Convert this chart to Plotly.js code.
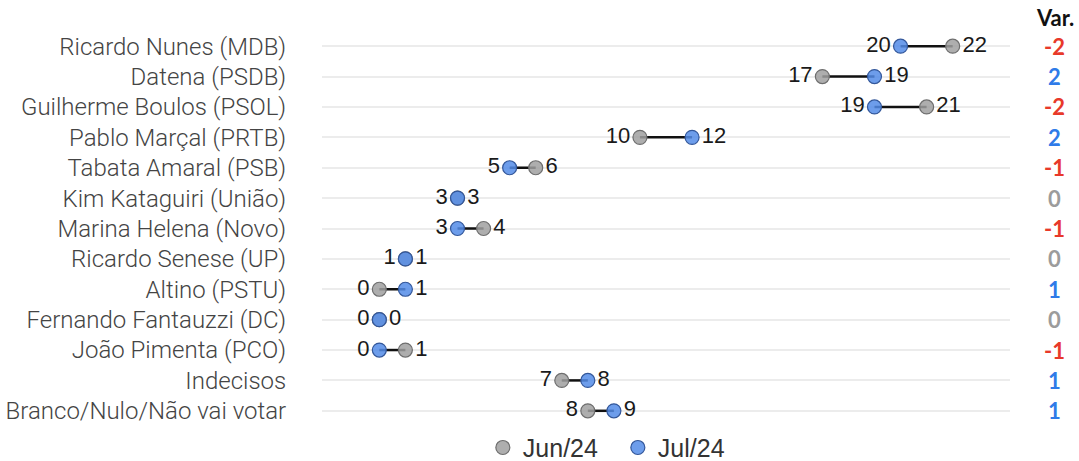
<!DOCTYPE html>
<html>
<head>
<meta charset="utf-8">
<script src="https://cdn.plot.ly/plotly-3.0.1.min.js"></script>
<style>
  html, body { margin: 0; padding: 0; background: #fff; }
  #chart { width: 1079px; height: 461px; }
</style>
</head>
<body>
<div id="chart"></div>
<script>
const names = [
    "Ricardo Nunes (MDB)", "Datena (PSDB)", "Guilherme Boulos (PSOL)", "Pablo Marçal (PRTB)",
    "Tabata Amaral (PSB)", "Kim Kataguiri (União)", "Marina Helena (Novo)", "Ricardo Senese (UP)",
    "Altino (PSTU)", "Fernando Fantauzzi (DC)", "João Pimenta (PCO)", "Indecisos",
    "Branco/Nulo/Não vai votar"
]
const jun24 = [22, 17, 21, 10, 6, 3, 4, 1, 0, 0, 1, 7, 8]
const jul24 = [20, 19, 19, 12, 5, 3, 3, 1, 1, 0, 0, 8, 9]
const variation = [-2, 2, -2, 2, -1, 0, -1, 0, 1, 0, -1, 1, 1]

const valueFont = { family: 'Liberation Sans, Arial, sans-serif', size: 22, color: '#1a1a1a' }

// connecting segments, one trace with gaps
const segX = [], segY = []
for (let i = 0; i < names.length; i++) {
    segX.push(jun24[i], jul24[i], null)
    segY.push(names[i], names[i], null)
}

const junPos = jun24.map((v, i) => v <= jul24[i] ? 'middle left' : 'middle right')
const julPos = jul24.map((v, i) => v < jun24[i] ? 'middle left' : 'middle right')

const segments = {
    x: segX,
    y: segY,
    mode: 'lines',
    type: 'scatter',
    line: { color: '#111', width: 2.5 },
    showlegend: false,
    hoverinfo: 'skip'
}

const jun = {
    x: jun24,
    y: names,
    mode: 'markers+text',
    type: 'scatter',
    name: 'Jun/24',
    text: jun24.map(String),
    textposition: junPos,
    textfont: valueFont,
    marker: { size: 14, color: 'rgba(160,160,160,0.85)', line: { color: '#6e6e6e', width: 1.2 } }
}

const jul = {
    x: jul24,
    y: names,
    mode: 'markers+text',
    type: 'scatter',
    name: 'Jul/24',
    text: jul24.map(String),
    textposition: julPos,
    textfont: valueFont,
    marker: { size: 14, color: 'rgba(84,140,232,0.85)', line: { color: '#33579a', width: 1.2 } }
}

const varColor = v => v > 0 ? '#2f7be8' : (v < 0 ? '#e8392a' : '#9c9c9c')

const annotations = variation.map((v, i) => ({
    xref: 'paper', yref: 'y',
    x: 1.065, y: names[i],
    text: String(v),
    showarrow: false,
    xanchor: 'center',
    font: { family: 'Lato, sans-serif', size: 22, color: varColor(v), weight: 'bold' }
}))
annotations.push({
    xref: 'paper', yref: 'paper',
    x: 1.065, y: 1.035,
    text: 'Var.',
    showarrow: false,
    xanchor: 'center',
    yanchor: 'middle',
    font: { family: 'Lato, sans-serif', size: 22, color: '#111', weight: 'bold' }
})

const layout = {
    width: 1079,
    height: 461,
    margin: { l: 322, r: 69, t: 31, b: 35, autoexpand: false },
    paper_bgcolor: '#fff',
    plot_bgcolor: '#fff',
    showlegend: true,
    legend: {
        orientation: 'h',
        x: 0.43, xanchor: 'center',
        y: -0.055, yanchor: 'middle',
        font: { family: 'Liberation Sans, Arial, sans-serif', size: 25, color: '#333' },
        itemwidth: 30,
        entrywidth: 90
    },
    xaxis: {
        range: [-2.2, 24.2],
        showgrid: false,
        zeroline: false,
        showticklabels: false,
        fixedrange: true
    },
    yaxis: {
        type: 'category',
        range: [12.5, -0.5],
        showgrid: true,
        gridcolor: '#ececec',
        gridwidth: 2,
        zeroline: false,
        ticks: 'outside',
        ticklen: 30,
        tickcolor: 'rgba(0,0,0,0)',
        tickfont: { family: 'Roboto, sans-serif', size: 24, color: '#444', weight: 300 }
    },
    annotations: annotations
}

Plotly.newPlot('chart', [segments, jun, jul], layout, { displayModeBar: false })
</script>
</body>
</html>
